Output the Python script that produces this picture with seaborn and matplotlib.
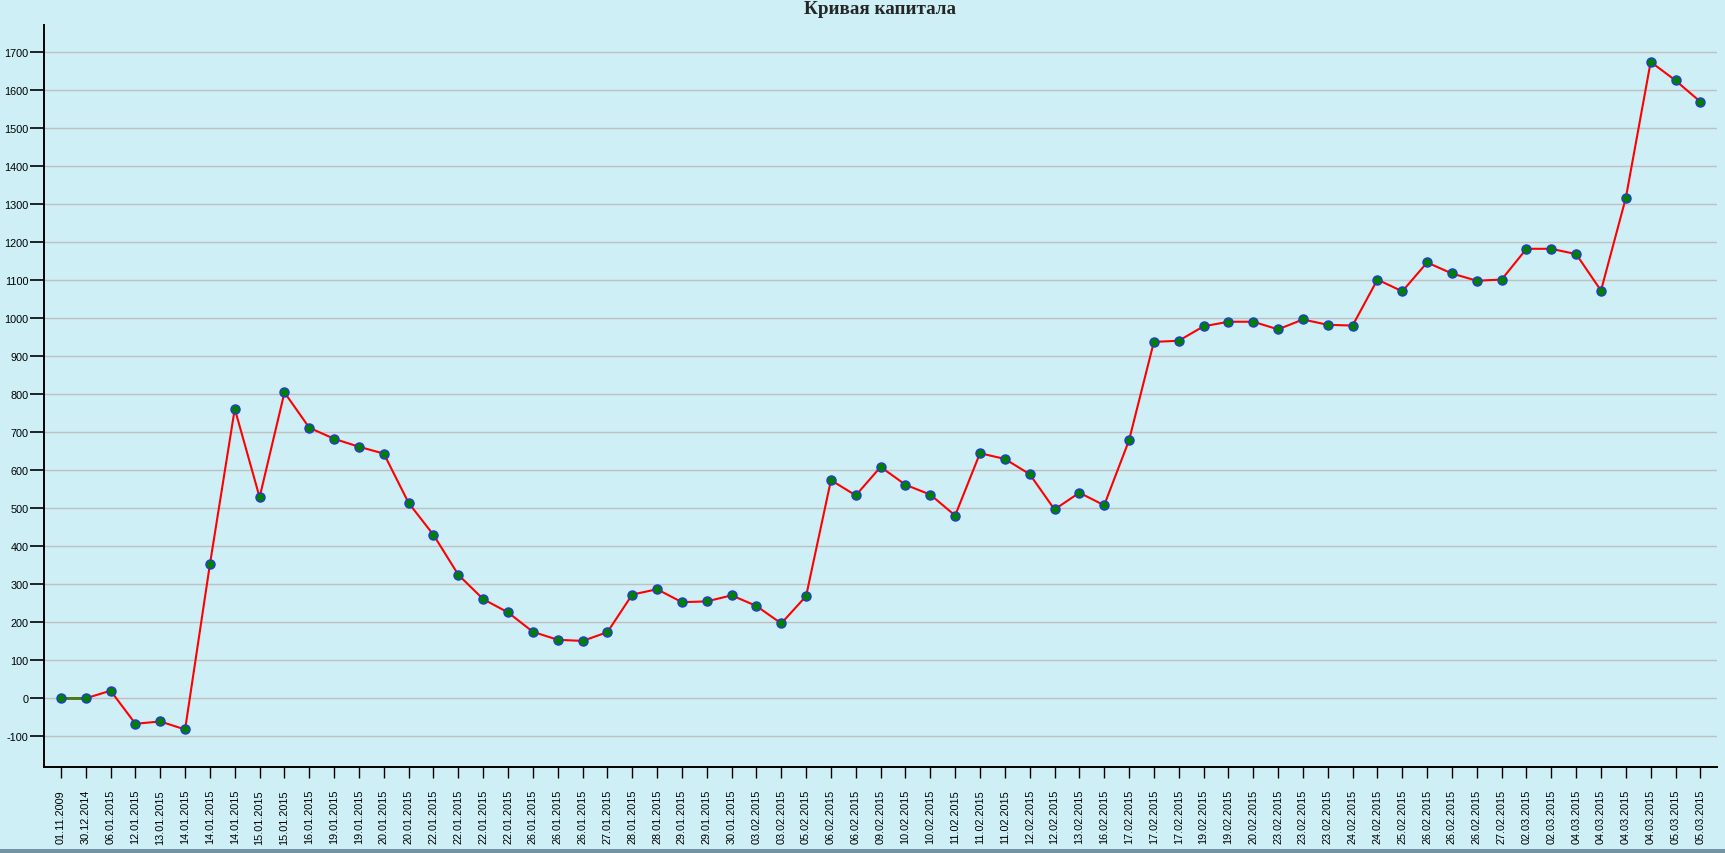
import numpy as np
import pandas as pd
import matplotlib
matplotlib.use('Agg')
import matplotlib.pyplot as plt
from matplotlib.patches import Rectangle
import seaborn as sns

dates = ['01.11.2009', '30.12.2014', '06.01.2015', '12.01.2015', '13.01.2015',
         '14.01.2015', '14.01.2015', '14.01.2015', '15.01.2015', '15.01.2015',
         '16.01.2015', '19.01.2015', '19.01.2015', '20.01.2015', '20.01.2015',
         '22.01.2015', '22.01.2015', '22.01.2015', '22.01.2015', '26.01.2015',
         '26.01.2015', '26.01.2015', '27.01.2015', '28.01.2015', '28.01.2015',
         '29.01.2015', '29.01.2015', '30.01.2015', '03.02.2015', '03.02.2015',
         '05.02.2015', '06.02.2015', '06.02.2015', '09.02.2015', '10.02.2015',
         '10.02.2015', '11.02.2015', '11.02.2015', '11.02.2015', '12.02.2015',
         '12.02.2015', '13.02.2015', '16.02.2015', '17.02.2015', '17.02.2015',
         '17.02.2015', '19.02.2015', '19.02.2015', '20.02.2015', '23.02.2015',
         '23.02.2015', '23.02.2015', '24.02.2015', '24.02.2015', '25.02.2015',
         '26.02.2015', '26.02.2015', '26.02.2015', '27.02.2015', '02.03.2015',
         '02.03.2015', '04.03.2015', '04.03.2015', '04.03.2015', '04.03.2015',
         '05.03.2015', '05.03.2015']

capital = [0, 0, 20, -67, -61, -82, 353, 762, 529, 805,
           712, 683, 662, 644, 514, 430, 325, 261, 226, 175,
           154, 151, 174, 273, 287, 253, 255, 271, 243, 197,
           269, 574, 534, 609, 562, 536, 481, 645, 630, 590,
           497, 541, 508, 679, 938, 941, 979, 991, 991, 971,
           997, 983, 981, 1102, 1071, 1147, 1118, 1099, 1102, 1183,
           1183, 1169, 1073, 1317, 1675, 1626, 1570]

y_ticks = list(range(-100, 1800, 100))

bg = '#cdeff5'

df = pd.DataFrame({'pos': np.arange(len(dates)), 'date': dates, 'capital': capital})

sns.set_style('white')
plt.rcParams['font.family'] = ['Liberation Sans', 'DejaVu Sans']

fig = plt.figure(figsize=(17.25, 8.54), dpi=100, facecolor=bg)
ax = fig.add_axes([44 / 1725, 1 - 767.7 / 854, (1717 - 44) / 1725, (767.7 - 26) / 854])
ax.set_facecolor(bg)

sns.lineplot(data=df, x='pos', y='capital', ax=ax, sort=False, color='#ff0000',
             linewidth=1.5, zorder=3)
# first segment is drawn darker in the original
ax.plot(df['pos'][:2], df['capital'][:2], color='#4a7a10', linewidth=2.0, zorder=3.5)
ax.plot(df['pos'], df['capital'], linestyle='none', marker='o', markersize=6.6,
        markerfacecolor='#008000', markeredgecolor='#2233ee', markeredgewidth=0.9, zorder=4)

ax.set_xlim(-0.68, 66.67)
ax.set_ylim(-180, 1772)
ax.set_yticks(y_ticks)
ax.set_yticklabels([str(v) for v in y_ticks])
ax.set_xticks(df['pos'])
ax.set_xticklabels(dates, rotation=90)
ax.grid(axis='y', color='#c0c0c0', linewidth=1.0, zorder=0)
ax.grid(axis='x', visible=False)
ax.set_axisbelow(True)

for s in ['top', 'right']:
    ax.spines[s].set_visible(False)
for s in ['left', 'bottom']:
    ax.spines[s].set_color('black')
    ax.spines[s].set_linewidth(1.4)

ax.tick_params(axis='y', length=10, width=1.2, pad=1, labelsize=7.8, colors='black', left=True)
ax.tick_params(axis='x', length=8, width=1.0, pad=8, labelsize=7.8, colors='black', bottom=True)
ax.set_xlabel('')
ax.set_ylabel('')

fig.text(880 / 1725, 1 - 10 / 854, 'Кривая капитала', ha='center', va='center',
         fontsize=13.8, fontweight='bold', family=['Liberation Serif', 'DejaVu Serif'])

# window border at the bottom
fig.add_artist(Rectangle((0, 0), 1, 4 / 854, transform=fig.transFigure,
                         facecolor='#7393a3', edgecolor='none'))

fig.savefig('out.png', dpi=100, facecolor=bg)
